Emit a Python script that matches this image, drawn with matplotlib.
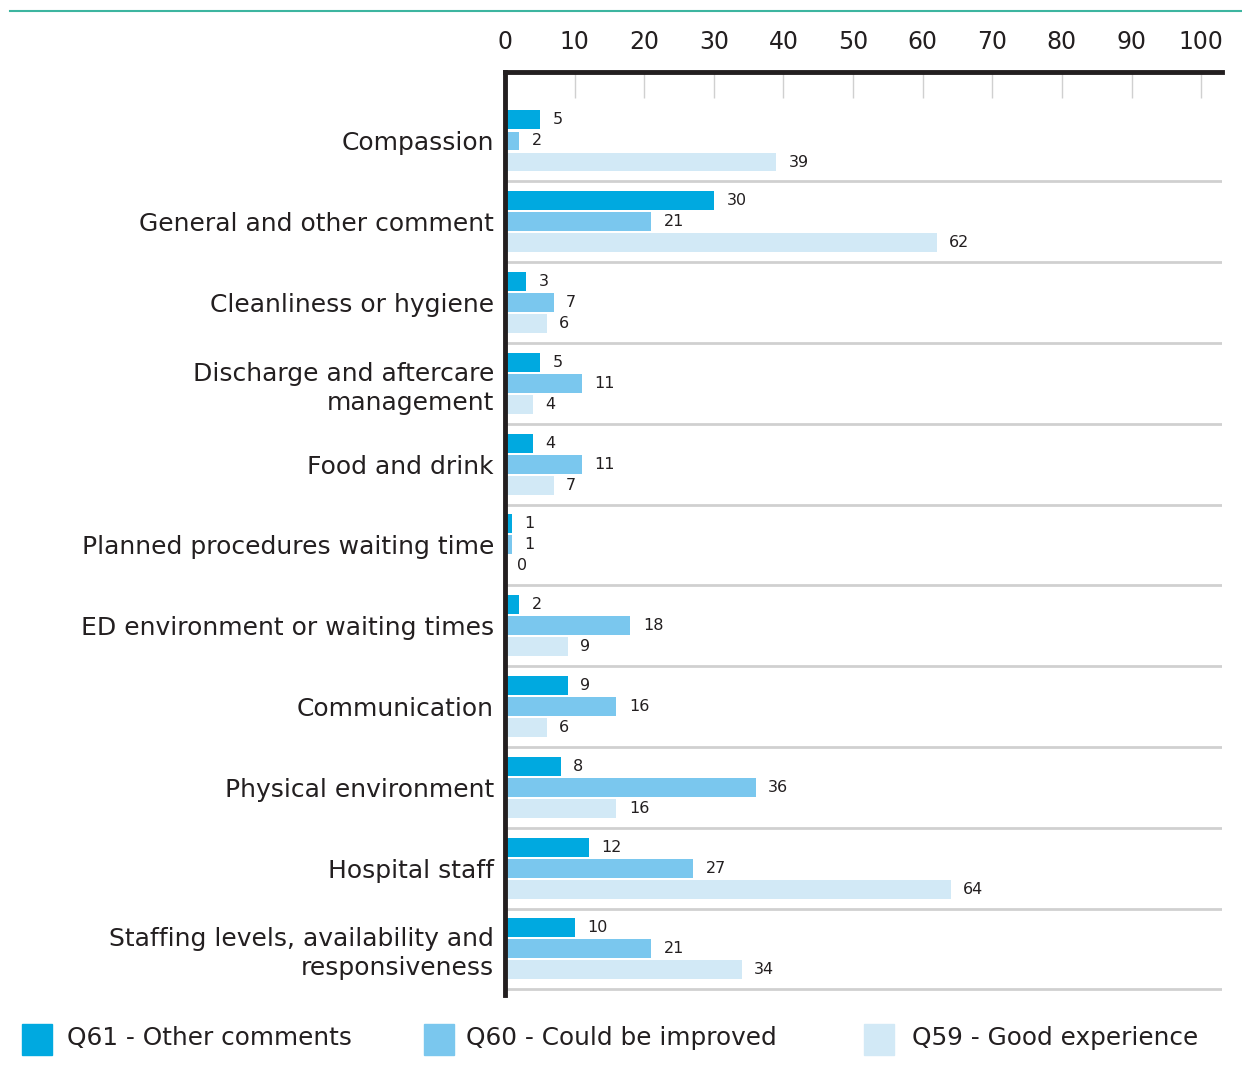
import numpy as np
import matplotlib.pyplot as plt
from matplotlib.patches import Rectangle
from matplotlib.lines import Line2D

categories = ["Compassion", "General and other comment", "Cleanliness or hygiene",
              "Discharge and aftercare\nmanagement", "Food and drink",
              "Planned procedures waiting time", "ED environment or waiting times",
              "Communication", "Physical environment", "Hospital staff",
              "Staffing levels, availability and\nresponsiveness"]
q61 = [5, 30, 3, 5, 4, 1, 2, 9, 8, 12, 10]
q60 = [2, 21, 7, 11, 11, 1, 18, 16, 36, 27, 21]
q59 = [39, 62, 6, 4, 7, 0, 9, 6, 16, 64, 34]
series_names = ["Q61 - Other comments", "Q60 - Could be improved", "Q59 - Good experience"]
colors = ["#00a9e0", "#7ac7ee", "#d2e9f6"]
ticks = list(range(0, 101, 10))

W, H = 1242, 1068
fig = plt.figure(figsize=(W / 100, H / 100), dpi=100)
ax = fig.add_axes([505 / W, 1 - 995 / H, (1222 - 505) / W, (995 - 72) / H])

txt = "#231f20"
y = np.arange(len(categories))
offs = [-0.26, 0.0, 0.26]
bh = 0.235
for vals, off, c in zip([q61, q60, q59], offs, colors):
    ax.barh(y + off, vals, height=bh, color=c, zorder=2)
    for yi, v in zip(y, vals):
        ax.annotate(str(v), (v, yi + off), xytext=(9, 0), textcoords="offset points",
                    ha="left", va="center", fontsize=11.5, color=txt)

for i in range(len(categories)):
    ax.axhline(i + 0.5, color="#d0d0d0", lw=2, zorder=1)

ax.set_xlim(0, 103)
ax.set_ylim(10.57, -0.854)
ax.xaxis.tick_top()
ax.set_xticks(ticks)
ax.tick_params(axis="x", direction="in", length=19, width=1, color="#d0d0d0",
               labelsize=17, labelcolor=txt, pad=13)
ax.set_yticks(y)
ax.set_yticklabels(categories, fontsize=18, color=txt, linespacing=1.25)
ax.tick_params(axis="y", length=0, pad=8)
for s in ["right", "bottom"]:
    ax.spines[s].set_visible(False)
for s in ["top", "left"]:
    ax.spines[s].set_linewidth(3.5)
    ax.spines[s].set_color(txt)

# legend
lx = [22, 424, 864]
tx = [67, 466, 912]
for name, c, x0, x1 in zip(series_names, colors, lx, tx):
    fig.patches.append(Rectangle((x0 / W, 1 - 1055 / H), 30 / W, 31 / H,
                                 transform=fig.transFigure, color=c))
    fig.text(x1 / W, 1 - 1038 / H, name, fontsize=17.8, color=txt, va="center", ha="left")

# teal rule at top
fig.add_artist(Line2D([10 / W, 1], [1 - 11 / H, 1 - 11 / H], transform=fig.transFigure,
                      color="#3db5a0", lw=1.5))

fig.savefig("out.png", dpi=100)
